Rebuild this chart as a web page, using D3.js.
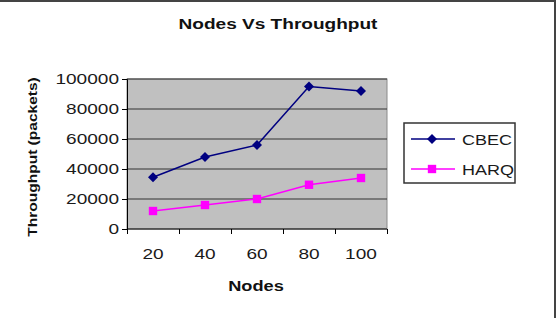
<!DOCTYPE html>
<html>
<head>
<meta charset="utf-8">
<script src="https://cdn.jsdelivr.net/npm/d3@7"></script>
<style>
  body { margin: 0; background: #fff; }
  svg { display: block; font-family: "Liberation Sans", Arial, sans-serif; }
</style>
</head>
<body>
<svg width="556" height="318"></svg>
<script>
const nodes = ["20", "40", "60", "80", "100"];
const cbec = [34500, 48000, 56000, 95000, 92000];
const harq = [12000, 16000, 20000, 29500, 34000];
const yTicks = [0, 20000, 40000, 60000, 80000, 100000];

const svg = d3.select("svg");
const plot = {left: 127, top: 79, width: 260, height: 150};

// the source picture is stretched sideways, so widen the glyphs the same way
function stretch(sel, k) {
  sel.each(function() {
    const w = this.getComputedTextLength();
    d3.select(this).attr("textLength", w * k).attr("lengthAdjust", "spacingAndGlyphs");
  });
}

// frame of the chart picture (top and right edges)
svg.append("line").attr("x1", 0).attr("x2", 556).attr("y1", 1).attr("y2", 1)
  .attr("stroke", "#444").attr("stroke-width", 2);
svg.append("line").attr("x1", 555).attr("x2", 555).attr("y1", 0).attr("y2", 318)
  .attr("stroke", "#444").attr("stroke-width", 2);

const x = d3.scaleBand().domain(nodes).range([0, plot.width]);
const xEdge = d3.scaleLinear().domain([0, nodes.length]).range([0, plot.width]);
const y = d3.scaleLinear().domain([0, 100000]).range([plot.height, 0]);

const g = svg.append("g").attr("transform", "translate(" + plot.left + "," + plot.top + ")");

g.append("rect")
  .attr("width", plot.width).attr("height", plot.height)
  .attr("fill", "#c0c0c0").attr("stroke", "#8a8a8a");

g.selectAll(".grid").data(yTicks.slice(1))
  .join("line")
  .attr("class", "grid")
  .attr("x1", 0).attr("x2", plot.width)
  .attr("y1", d => y(d)).attr("y2", d => y(d))
  .attr("stroke", "#333").attr("stroke-width", 1);

// y axis
g.append("g")
  .call(d3.axisLeft(y).tickValues(yTicks).tickSize(5).tickPadding(3).tickFormat(d3.format("d")))
  .call(a => a.select(".domain").attr("stroke", "#000"))
  .call(a => a.selectAll("line").attr("stroke", "#000"))
  .call(a => a.selectAll("text").attr("font-size", 15).attr("fill", "#1a1a1a").call(stretch, 1.27));

// x axis: tick marks between categories, labels at category centres
g.append("g")
  .attr("transform", "translate(0," + plot.height + ")")
  .call(d3.axisBottom(xEdge).tickValues(d3.range(nodes.length + 1)).tickSize(5).tickFormat(""))
  .call(a => a.select(".domain").attr("stroke", "#000").attr("d", "M0,0H" + plot.width))
  .call(a => a.selectAll("line").attr("stroke", "#000"));

g.append("g")
  .attr("transform", "translate(0," + plot.height + ")")
  .call(d3.axisBottom(x).tickSize(0).tickPadding(19))
  .call(a => a.select(".domain").remove())
  .call(a => a.selectAll("text").attr("font-size", 15).attr("fill", "#1a1a1a").call(stretch, 1.27));

const cx = d => x(d) + x.bandwidth() / 2;
const line = d3.line().x((d, i) => cx(nodes[i])).y(d => y(d));

g.append("path").datum(cbec)
  .attr("fill", "none").attr("stroke", "#000080").attr("stroke-width", 1.5)
  .attr("d", line);
g.append("path").datum(harq)
  .attr("fill", "none").attr("stroke", "#ff00ff").attr("stroke-width", 1.5)
  .attr("d", line);

const diamond = d3.symbol().type(d3.symbolDiamond2).size(64);
const square = d3.symbol().type(d3.symbolSquare).size(70);

g.selectAll(".cbec").data(cbec).join("path")
  .attr("class", "cbec")
  .attr("transform", (d, i) => "translate(" + cx(nodes[i]) + "," + y(d) + ")")
  .attr("d", diamond).attr("fill", "#000080");
g.selectAll(".harq").data(harq).join("path")
  .attr("class", "harq")
  .attr("transform", (d, i) => "translate(" + cx(nodes[i]) + "," + y(d) + ")")
  .attr("d", square).attr("fill", "#ff00ff");

// titles
svg.append("text")
  .attr("x", 278).attr("y", 29).attr("text-anchor", "middle")
  .attr("font-size", 14).attr("font-weight", "bold")
  .attr("fill", "#111").text("Nodes Vs Throughput").call(stretch, 1.36);
svg.append("text")
  .attr("x", 256).attr("y", 291).attr("text-anchor", "middle")
  .attr("font-size", 14).attr("font-weight", "bold")
  .attr("fill", "#111").text("Nodes").call(stretch, 1.3);
svg.append("text")
  .attr("transform", "translate(37,157) rotate(-90)").attr("text-anchor", "middle")
  .attr("font-size", 13.5).attr("font-weight", "bold")
  .attr("fill", "#111").text("Throughput (packets)").call(stretch, 1.15);

// legend
const legend = svg.append("g").attr("transform", "translate(404,123)");
legend.append("rect").attr("width", 111).attr("height", 60)
  .attr("fill", "#fff").attr("stroke", "#333").attr("stroke-width", 1.5);
const items = [
  {name: "CBEC", color: "#000080", sym: diamond},
  {name: "HARQ", color: "#ff00ff", sym: square}
];
items.forEach((it, i) => {
  const row = legend.append("g").attr("transform", "translate(0," + (16 + i * 30) + ")");
  row.append("line").attr("x1", 7).attr("x2", 51)
    .attr("stroke", it.color).attr("stroke-width", 1.5);
  row.append("path").attr("transform", "translate(28,0)").attr("d", it.sym).attr("fill", it.color);
  row.append("text").attr("x", 58).attr("y", 5.5)
    .attr("font-size", 15).attr("fill", "#1a1a1a").text(it.name).call(stretch, 1.2);
});
</script>
</body>
</html>
